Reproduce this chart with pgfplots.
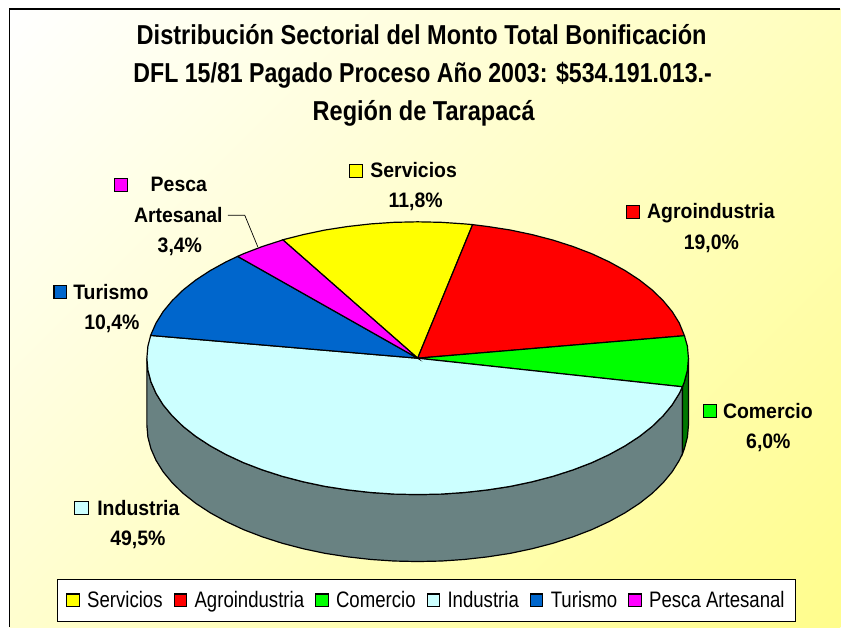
\documentclass[border=0pt]{standalone}
\usepackage{pgfplots}
\pgfplotsset{compat=1.18}
\usepackage{fontspec}
\setmainfont{Liberation Sans}
\newfontfamily\tf[FakeStretch=0.86]{Liberation Sans}
\newfontfamily\lf[FakeStretch=0.93]{Liberation Sans}
\newfontfamily\kf[FakeStretch=0.83]{Liberation Sans}
\definecolor{wall}{RGB}{105,130,130}
\definecolor{wallg}{RGB}{0,120,0}
\definecolor{cyanl}{RGB}{204,255,255}
\definecolor{bluem}{RGB}{0,102,204}
\definecolor{yel}{RGB}{255,253,140}
\definecolor{syellow}{RGB}{255,255,0}
\definecolor{sred}{RGB}{255,0,0}
\definecolor{sgreen}{RGB}{0,255,0}
\definecolor{smag}{RGB}{255,0,255}
\pgfdeclareverticalshading{diag}{100bp}{color(0bp)=(yel); color(14.6bp)=(yel); color(85.4bp)=(white); color(100bp)=(white)}
\begin{document}
\begin{tikzpicture}
\begin{axis}[
  scale only axis, width=841bp, height=628bp,
  xmin=0, xmax=841, ymin=0, ymax=628, y dir=reverse,
  hide axis, clip=false,
  area legend,
  legend columns=6,
  legend cell align=left,
  legend style={at={(axis cs:426.5,601)}, anchor=center, draw=black, line width=0.9pt, fill=white,
    font=\kf\fontsize{22.5}{26}\selectfont, inner xsep=9pt, inner ysep=11pt,
    /tikz/every even column/.append style={column sep=9.5pt},
    /tikz/every odd column/.append style={column sep=6pt},
    nodes={inner sep=1.5pt}},
  legend image code/.code={\draw[#1, draw=black, line width=1.1pt] (0pt,-6pt) rectangle (12.5pt,6.5pt);},
]
% page extent
\path[fill=white, draw=none] (axis cs:0,0) rectangle (axis cs:841,628);
% background
\path[shading=diag, shading angle=45, draw=none]
  (axis cs:9.5,9) rectangle (axis cs:841,628);
\draw[black, line width=1.4pt] (axis cs:841,9) -- (axis cs:9.5,9) -- (axis cs:9.5,628);
% side wall, front (Industria)
\addplot[forget plot, fill=wall, draw=black, line width=1.2pt] coordinates {
(147,358.5)(148,370.4)(151.1,382.2)(156.2,393.8)(163.3,405.2)(172.4,416.2)(183.3,426.8)(196,436.8)(210.4,446.2)(226.4,455)(243.8,463.1)(262.6,470.3)(282.5,476.7)(303.5,482.2)(325.3,486.8)(347.9,490.3)(371,492.9)(394.4,494.5)(418,495)(441.6,494.5)(465,492.9)(488.1,490.3)(510.7,486.8)(532.5,482.2)(553.5,476.7)(573.4,470.3)(592.2,463.1)(609.6,455)(625.6,446.2)(640,436.8)(652.7,426.8)(663.6,416.2)(672.7,405.2)(679.8,393.8)(683,387.1)
(683,454.1)(679.8,460.8)(672.7,472.2)(663.6,483.2)(652.7,493.8)(640,503.8)(625.6,513.2)(609.6,522)(592.2,530.1)(573.4,537.3)(553.5,543.7)(532.5,549.2)(510.7,553.8)(488.1,557.3)(465,559.9)(441.6,561.5)(418,562)(394.4,561.5)(371,559.9)(347.9,557.3)(325.3,553.8)(303.5,549.2)(282.5,543.7)(262.6,537.3)(243.8,530.1)(226.4,522)(210.4,513.2)(196,503.8)(183.3,493.8)(172.4,483.2)(163.3,472.2)(156.2,460.8)(151.1,449.2)(148,437.4)(147,425.5)
} -- cycle;
% side wall, Comercio
\addplot[forget plot, fill=wallg, draw=black, line width=1.2pt] coordinates {
(683,387.1)(684.9,382.2)(688,370.4)(689,358.5)(689,425.5)(688,437.4)(684.9,449.2)(683,454.1)
} -- cycle;
% Servicios 11,8
\addplot[fill=syellow, draw=black, line width=1.2pt] coordinates {
(418,358.5)(473,224.8)(465,224.1)(441.6,222.5)(418,222)(394.4,222.5)(371,224.1)(347.9,226.7)(325.3,230.2)(303.5,234.8)(283,240)
} -- cycle;
% Agroindustria 19,0
\addplot[fill=sred, draw=black, line width=1.2pt] coordinates {
(418,358.5)(685,336)(679.8,323.2)(672.7,311.8)(663.6,300.8)(652.7,290.2)(640,280.2)(625.6,270.8)(609.6,262)(592.2,253.9)(573.4,246.7)(553.5,240.3)(532.5,234.8)(510.7,230.2)(488.1,226.7)(473,224.8)
} -- cycle;
% Comercio 6,0
\addplot[fill=sgreen, draw=black, line width=1.2pt] coordinates {
(418,358.5)(683,387.1)(684.9,382.2)(688,370.4)(689,358.5)(688,346.6)(685,336)
} -- cycle;
% Industria 49,5
\addplot[fill=cyanl, draw=black, line width=1.2pt] coordinates {
(418,358.5)(150.8,335.7)(148,346.6)(147,358.5)(148,370.4)(151.1,382.2)(156.2,393.8)(163.3,405.2)(172.4,416.2)(183.3,426.8)(196,436.8)(210.4,446.2)(226.4,455)(243.8,463.1)(262.6,470.3)(282.5,476.7)(303.5,482.2)(325.3,486.8)(347.9,490.3)(371,492.9)(394.4,494.5)(418,495)(441.6,494.5)(465,492.9)(488.1,490.3)(510.7,486.8)(532.5,482.2)(553.5,476.7)(573.4,470.3)(592.2,463.1)(609.6,455)(625.6,446.2)(640,436.8)(652.7,426.8)(663.6,416.2)(672.7,405.2)(679.8,393.8)(683,387.1)
} -- cycle;
% Turismo 10,4
\addplot[fill=bluem, draw=black, line width=1.2pt] coordinates {
(418,358.5)(237.8,256.6)(226.4,262)(210.4,270.8)(196,280.2)(183.3,290.2)(172.4,300.8)(163.3,311.8)(156.2,323.2)(151.1,334.8)(150.8,335.7)
} -- cycle;
% Pesca Artesanal 3,4
\addplot[fill=smag, draw=black, line width=1.2pt] coordinates {
(418,358.5)(283,240)(282.5,240.3)(262.6,246.7)(243.8,253.9)(237.8,256.6)
} -- cycle;
\legend{Servicios,Agroindustria,Comercio,Industria,Turismo,Pesca Artesanal}
% leader line
\addplot[forget plot, black, line width=0.7pt] coordinates {(228,215.5)(245,215.5)(258,247)};
% title
\node[font=\tf\bfseries\fontsize{27.5}{30}\selectfont, anchor=base] at (axis cs:422,45) {Distribución Sectorial del Monto Total Bonificación};
\node[font=\tf\bfseries\fontsize{27.5}{30}\selectfont, anchor=base, xscale=0.983] at (axis cs:423,83) {DFL 15/81 Pagado Proceso Año 2003: \$534.191.013.-};
\node[font=\tf\bfseries\fontsize{27.5}{30}\selectfont, anchor=base] at (axis cs:424,120.5) {Región de Tarapacá};
% data labels
\tikzset{lab/.style={font=\lf\bfseries\fontsize{21}{24}\selectfont, anchor=base, inner sep=0pt},
  sw/.style={draw=black, line width=1.1pt}}
\draw[sw, fill=syellow] (axis cs:350,165) rectangle (axis cs:363,178);
\node[lab] at (axis cs:414,178) {Servicios};
\node[lab] at (axis cs:416,208) {11,8\%};
\draw[sw, fill=sred] (axis cs:627,206) rectangle (axis cs:640,219);
\node[lab] at (axis cs:711.5,219) {Agroindustria};
\node[lab] at (axis cs:712,250) {19,0\%};
\draw[sw, fill=sgreen] (axis cs:704,405) rectangle (axis cs:717,418);
\node[lab] at (axis cs:768.5,419) {Comercio};
\node[lab] at (axis cs:769,449) {6,0\%};
\draw[sw, fill=bluem] (axis cs:54,286) rectangle (axis cs:67,299);
\node[lab] at (axis cs:111,300) {Turismo};
\node[lab] at (axis cs:112,330) {10,4\%};
\draw[sw, fill=smag] (axis cs:115,179) rectangle (axis cs:128,192);
\node[lab] at (axis cs:179,192) {Pesca};
\node[lab] at (axis cs:178.5,223) {Artesanal};
\node[lab] at (axis cs:180,253) {3,4\%};
\draw[sw, fill=cyanl] (axis cs:75,502) rectangle (axis cs:89,515);
\node[lab] at (axis cs:138.5,516) {Industria};
\node[lab] at (axis cs:138,546) {49,5\%};
\end{axis}
\end{tikzpicture}
\end{document}
